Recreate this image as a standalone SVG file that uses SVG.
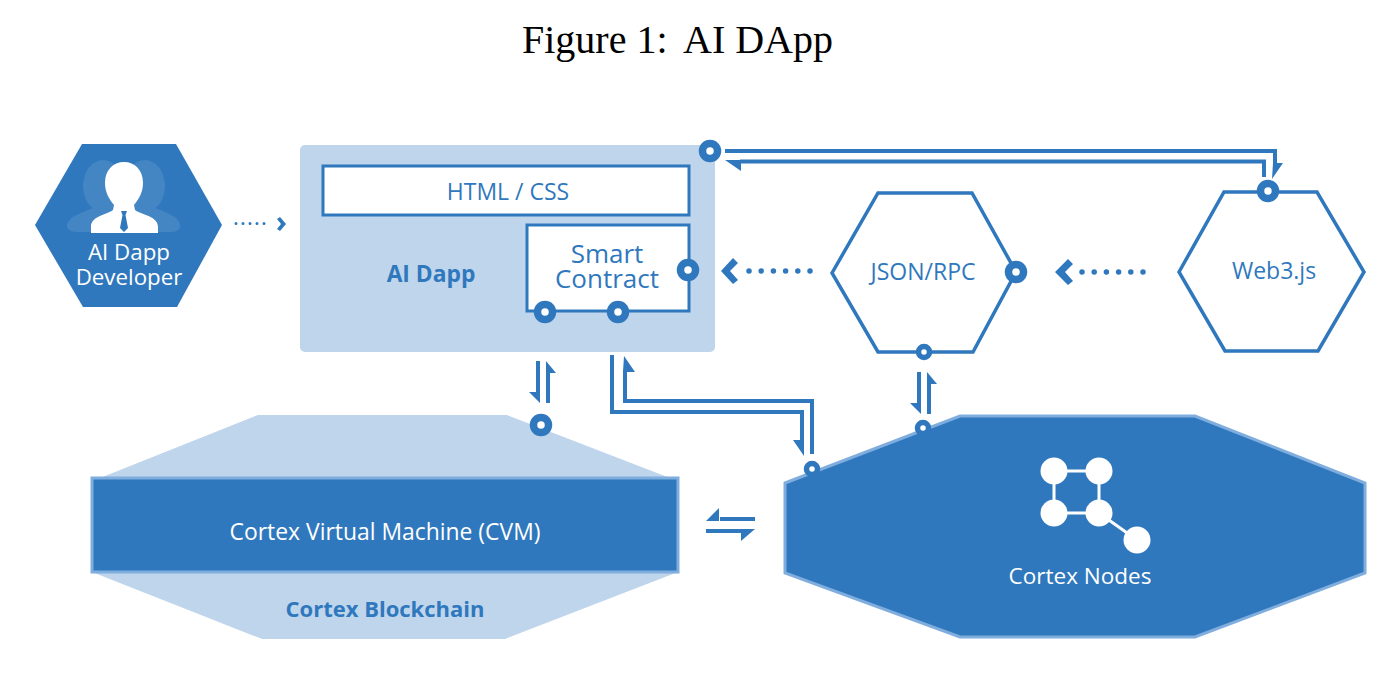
<svg xmlns="http://www.w3.org/2000/svg" width="1400" height="678" viewBox="0 0 1400 678">
<style>
text{font-family:"Open Sans","Noto Sans",sans-serif;text-anchor:middle}
.lab{fill:#2f78bd;font-size:23px}
.w{fill:#fff;font-size:22.500px}
.b{font-weight:700;font-size:22px;fill:#2f78bd}
.hex{fill:#fff;stroke:#2f78bd;stroke-width:3.500}
.ln{fill:none;stroke:#2f78bd;stroke-width:4}
.ah{fill:#2f78bd}
.ring{fill:#fff;stroke:#2f78bd;stroke-width:7.500}
.ring2{fill:#fff;stroke:#2f78bd;stroke-width:5.500}
.dl{fill:none;stroke:#2f78bd;stroke-width:5.500;stroke-linecap:round;stroke-dasharray:0 12.200}
.dls{fill:none;stroke:#2f78bd;stroke-width:3;stroke-linecap:round;stroke-dasharray:0 7}
</style>
<rect width="1400" height="678" fill="#fff"/>
<text id="title" y="53" style="font-family:'Liberation Serif',serif;font-size:40px;fill:#000;text-anchor:start"><tspan x="522">Figure 1:</tspan><tspan x="683">AI DApp</tspan></text>

<g id="ai-dapp-developer">
<polygon points="35,225 82,144 176,144 222,225 177,307 83,307" fill="#2f78bd"/>
<g fill="#4485c4">
<ellipse cx="103" cy="186" rx="20" ry="26"/><ellipse cx="145" cy="186" rx="20" ry="26"/>
<path d="M67 226C67 216 85 212 100 205H148C165 212 180 216 180 226C180 230 176 232 170 232H78C72 232 67 230 67 226Z"/>
</g>
<path d="M124 162C135 162 143 170 143 183C143 192 139 199 134 205L135 210C142 215 158 216 158 227V233H91V227C91 216 106 215 113 210L114 205C109 199 105 192 105 183C105 170 113 162 124 162Z" fill="#fff"/>
<path d="M121 211H127L125.500 215L128 228L124 232L120 228L122.500 215Z" fill="#2f78bd"/>
<text class="w" style="font-size:22.300px" x="129"><tspan x="129" y="260">AI Dapp</tspan><tspan x="129" y="285">Developer</tspan></text>
</g>

<g id="ai-dapp">
<rect x="300" y="145" width="415" height="207" rx="5" fill="#bfd5ec"/>
<text class="b" style="font-size:22.800px" x="431" y="282">AI Dapp</text>
</g>
<g id="html-css">
<rect x="323" y="166" width="366" height="49" fill="#fff" stroke="#2f78bd" stroke-width="3"/>
<text class="lab" x="508" y="200">HTML / CSS</text>
</g>
<g id="smart-contract">
<rect x="527" y="225" width="162" height="86" fill="#fff" stroke="#2f78bd" stroke-width="3"/>
<text class="lab" style="font-size:26px"><tspan x="607" y="263">Smart</tspan><tspan x="607" y="288">Contract</tspan></text>
</g>
<g id="json-rpc">
<polygon class="hex" points="832,273 878,193 972,193 1016,272 973,352 878,352"/>
<text class="lab" x="923" y="280">JSON/RPC</text>
</g>
<g id="web3js">
<polygon class="hex" points="1179,272 1224,192 1317,192 1364,272 1318,351 1225,351"/>
<text class="lab" x="1274" y="279">Web3.js</text>
</g>
<g id="cortex-blockchain">
<polygon points="100,478 258,415 507,415 670,478 678,572 505,639 262,639 92,572" fill="#bfd5ec"/>
<text class="b" x="385" y="617">Cortex Blockchain</text>
</g>
<g id="cvm">
<rect x="92" y="478" width="586" height="94" fill="#2f78bd" stroke="#7fadde" stroke-width="3"/>
<text class="w" style="font-size:22.900px" x="385" y="540">Cortex Virtual Machine (CVM)</text>
</g>
<g id="cortex-nodes">
<polygon points="785,483 960,416 1195,416 1365,483 1365,573 1195,637 960,637 785,573" fill="#2f78bd" stroke="#7fadde" stroke-width="3"/>
<path d="M1054 471H1099V513H1054ZM1099 513L1137 540" fill="none" stroke="#fff" stroke-width="3"/>
<g fill="#fff"><circle cx="1054" cy="471" r="13.500"/><circle cx="1099" cy="471" r="13.500"/><circle cx="1054" cy="513" r="13.500"/><circle cx="1099" cy="513" r="13.500"/><circle cx="1137" cy="540" r="13.500"/></g>
<text class="w" x="1080" y="584">Cortex Nodes</text>
</g>

<g id="connectors">
<path class="dls" d="M236 223.500H271"/>
<polygon class="ah" points="277,219 280,217 286,224 280,231 277,229 281,224"/>
<path class="dl" d="M810 271H747"/>
<polygon class="ah" points="721,271 733,258 738,263 730,271 738,280 733,284"/>
<path class="dl" d="M1143 272H1081"/>
<polygon class="ah" points="1055,272 1068,259 1073,264 1065,272 1073,281 1068,285"/>

<path class="ln" d="M725 151H1275V165"/>
<polygon class="ah" points="1273,163 1283,163 1272,179"/>
<path class="ln" d="M1264 177V161.500H740"/>
<polygon class="ah" points="725,160 741,160 741,171"/>

<path class="ln" d="M612 355V412H802V442"/>
<polygon class="ah" points="793,440 804,440 804,456"/>
<path class="ln" d="M812 454V401H625V370"/>
<polygon class="ah" points="624,356 635,372 623,372"/>

<path class="ln" d="M538 361V392"/>
<polygon class="ah" points="529,392 540,392 540,403"/>
<path class="ln" d="M548 403V372"/>
<polygon class="ah" points="546,361 556,373 546,373"/>

<path class="ln" d="M919 372V403"/>
<polygon class="ah" points="910,403 921,403 921,414"/>
<path class="ln" d="M929 414V383"/>
<polygon class="ah" points="927,372 937,384 927,384"/>

<path class="ln" d="M755 519H720"/>
<polygon class="ah" points="706,521 719,508 719,521"/>
<path class="ln" d="M706 531H742"/>
<polygon class="ah" points="755,529 741,529 741,541"/>

<g id="ports">
<circle class="ring" cx="710" cy="151" r="7.500"/>
<circle class="ring" cx="688" cy="270" r="7.500"/>
<circle class="ring" cx="545" cy="312" r="7.500"/>
<circle class="ring" cx="618" cy="312" r="7.500"/>
<circle class="ring" cx="1016" cy="272" r="7.500"/>
<circle class="ring" cx="1268" cy="191" r="7.500"/>
<circle class="ring" cx="541" cy="425" r="7.500"/>
<circle class="ring2" cx="924" cy="352" r="5.500"/>
<circle class="ring2" cx="923" cy="428" r="5.500"/>
<circle class="ring2" cx="812" cy="469" r="5.500"/>
</g>
</g>
</svg>
